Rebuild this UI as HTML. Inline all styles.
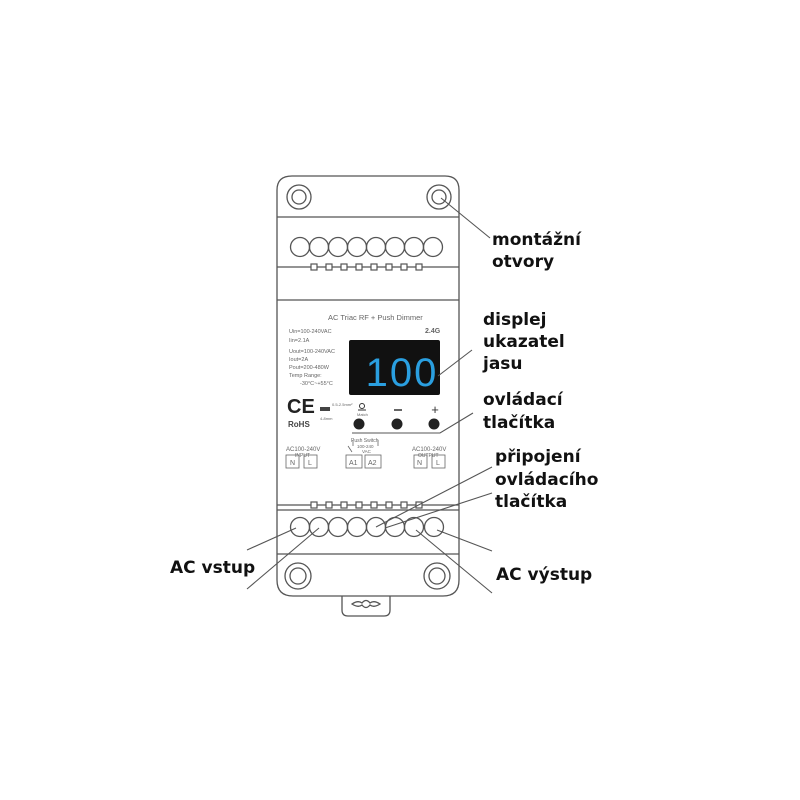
<!DOCTYPE html>
<html><head><meta charset="utf-8"><style>
html,body{margin:0;padding:0;background:#fff;}
svg{display:block}
.l{font-family:"DejaVu Sans","Liberation Sans",sans-serif;font-weight:bold;font-size:17px;fill:#111}
.s{font-family:"Liberation Sans",sans-serif;fill:#666}
</style></head><body>
<svg width="800" height="800" viewBox="0 0 800 800" xmlns="http://www.w3.org/2000/svg">
<g fill="none" stroke="#555" stroke-width="1.3">
 <path d="M292 176 H445 Q459 176 459 190 V580 Q459 596 443 596 H293 Q277 596 277 580 V190 Q277 176 292 176 Z"/>
 <line x1="277" y1="217" x2="459" y2="217"/>
 <line x1="277" y1="267" x2="459" y2="267"/>
 <line x1="277" y1="300" x2="459" y2="300"/>
 <line x1="277" y1="505" x2="459" y2="505"/>
 <line x1="277" y1="510" x2="459" y2="510"/>
 <line x1="277" y1="554" x2="459" y2="554"/>
 <circle cx="299" cy="197" r="12"/><circle cx="299" cy="197" r="7"/>
 <circle cx="439" cy="197" r="12"/><circle cx="439" cy="197" r="7"/>
 <circle cx="298" cy="576" r="13"/><circle cx="298" cy="576" r="8"/>
 <circle cx="437" cy="576" r="13"/><circle cx="437" cy="576" r="8"/>
 <path d="M342 596 V610 Q342 616 348 616 H384 Q390 616 390 610 V596"/>
 <path d="M352 604 Q358 600 362 603 Q366 598 370 603 Q374 600 380 604 Q374 608 370 605 Q366 610 362 605 Q358 608 352 604 Z"/>
 <circle cx="300" cy="247" r="9.5"/><circle cx="319" cy="247" r="9.5"/><circle cx="338" cy="247" r="9.5"/><circle cx="357" cy="247" r="9.5"/><circle cx="376" cy="247" r="9.5"/><circle cx="395" cy="247" r="9.5"/><circle cx="414" cy="247" r="9.5"/><circle cx="433" cy="247" r="9.5"/>
 <circle cx="300" cy="527" r="9.5"/><circle cx="319" cy="527" r="9.5"/><circle cx="338" cy="527" r="9.5"/><circle cx="357" cy="527" r="9.5"/><circle cx="376" cy="527" r="9.5"/><circle cx="395" cy="527" r="9.5"/><circle cx="414" cy="527" r="9.5"/><circle cx="434" cy="527" r="9.5"/>
</g>
<g fill="#fff" stroke="#555" stroke-width="1.2">
 <rect x="311" y="264" width="6" height="6"/><rect x="326" y="264" width="6" height="6"/><rect x="341" y="264" width="6" height="6"/><rect x="356" y="264" width="6" height="6"/><rect x="371" y="264" width="6" height="6"/><rect x="386" y="264" width="6" height="6"/><rect x="401" y="264" width="6" height="6"/><rect x="416" y="264" width="6" height="6"/>
 <rect x="311" y="502" width="6" height="6"/><rect x="326" y="502" width="6" height="6"/><rect x="341" y="502" width="6" height="6"/><rect x="356" y="502" width="6" height="6"/><rect x="371" y="502" width="6" height="6"/><rect x="386" y="502" width="6" height="6"/><rect x="401" y="502" width="6" height="6"/><rect x="416" y="502" width="6" height="6"/>
</g>
<text x="328" y="320" class="s" font-size="7.5">AC Triac RF + Push Dimmer</text>
<text x="425" y="333" class="s" font-size="7" font-weight="bold" fill="#444">2.4G</text>
<text x="289" y="333" class="s" font-size="5.5">Uin=100-240VAC</text>
<text x="289" y="342" class="s" font-size="5.5">Iin=2.1A</text>
<text x="289" y="353" class="s" font-size="5.5">Uout=100-240VAC</text>
<text x="289" y="361" class="s" font-size="5.5">Iout=2A</text>
<text x="289" y="369" class="s" font-size="5.5">Pout=200-480W</text>
<text x="289" y="377" class="s" font-size="5.5">Temp Range:</text>
<text x="300" y="385" class="s" font-size="5.5">-30°C~+55°C</text>
<rect x="349" y="340" width="91" height="55" rx="2" fill="#111"/>
<text x="402" y="386" text-anchor="middle" font-family="Liberation Sans,sans-serif" font-size="40" fill="#2a9fe0" letter-spacing="2">100</text>
<text x="287" y="413" font-family="Liberation Sans,sans-serif" font-size="20" font-weight="bold" fill="#222">CE</text>
<text x="288" y="427" font-family="Liberation Sans,sans-serif" font-size="8" font-weight="bold" fill="#444">RoHS</text>
<rect x="320" y="407" width="10" height="4" fill="#444"/>
<text x="332" y="406" class="s" font-size="4">0.5-2.5mm²</text>
<text x="320" y="420" class="s" font-size="4">4-8mm</text>
<circle cx="362" cy="406" r="2.5" fill="none" stroke="#333"/>
<line x1="358" y1="410" x2="366" y2="410" stroke="#333"/>
<text x="357" y="416" class="s" font-size="4">Match</text>
<line x1="394" y1="410" x2="402" y2="410" stroke="#333" stroke-width="1.5"/>
<text x="435" y="414" text-anchor="middle" font-family="Liberation Sans,sans-serif" font-size="13" fill="#333">+</text>
<circle cx="359" cy="424" r="5.5" fill="#222"/><circle cx="397" cy="424" r="5.5" fill="#222"/><circle cx="434" cy="424" r="5.5" fill="#222"/>
<text x="286" y="451" class="s" font-size="6">AC100-240V</text>
<text x="295" y="457" class="s" font-size="5">INPUT</text>
<text x="351" y="442" class="s" font-size="5">Push Switch</text>
<text x="357" y="448" class="s" font-size="4.5">100-240</text>
<text x="362" y="453" class="s" font-size="4.5">VAC</text>
<text x="412" y="451" class="s" font-size="6">AC100-240V</text>
<text x="418" y="457" class="s" font-size="5">OUTPUT</text>
<g fill="none" stroke="#666" stroke-width="0.8">
 <rect x="286" y="455" width="13" height="13"/><rect x="304" y="455" width="13" height="13"/>
 <rect x="346" y="455" width="16" height="13"/><rect x="365" y="455" width="16" height="13"/>
 <rect x="414" y="455" width="13" height="13"/><rect x="432" y="455" width="13" height="13"/>
 <path d="M348 446 L352 452 M353 440 V446 M378 440 V446"/>
</g>
<g class="s" font-size="7" fill="#333">
 <text x="290" y="465">N</text><text x="308" y="465">L</text>
 <text x="349" y="465">A1</text><text x="368" y="465">A2</text>
 <text x="417" y="465">N</text><text x="436" y="465">L</text>
</g>
<g stroke="#555" stroke-width="1.1" fill="none">
 <line x1="441" y1="198" x2="490" y2="238"/>
 <line x1="438" y1="376" x2="472" y2="350"/>
 <path d="M352 433 H440 L473 413"/>
 <line x1="376" y1="527" x2="492" y2="467"/>
 <line x1="385" y1="528" x2="492" y2="493"/>
 <line x1="296" y1="528" x2="247" y2="550"/>
 <line x1="319" y1="528" x2="247" y2="589"/>
 <line x1="437" y1="530" x2="492" y2="551"/>
 <line x1="416" y1="530" x2="492" y2="593"/>
</g>
<text class="l" x="492" y="245">montážní</text>
<text class="l" x="492" y="267">otvory</text>
<text class="l" x="483" y="325">displej</text>
<text class="l" x="483" y="347">ukazatel</text>
<text class="l" x="483" y="369">jasu</text>
<text class="l" x="483" y="405">ovládací</text>
<text class="l" x="483" y="428">tlačítka</text>
<text class="l" x="495" y="462">připojení</text>
<text class="l" x="495" y="485">ovládacího</text>
<text class="l" x="495" y="507">tlačítka</text>
<text class="l" x="170" y="573">AC vstup</text>
<text class="l" x="496" y="580">AC výstup</text>
</svg>
</body></html>
